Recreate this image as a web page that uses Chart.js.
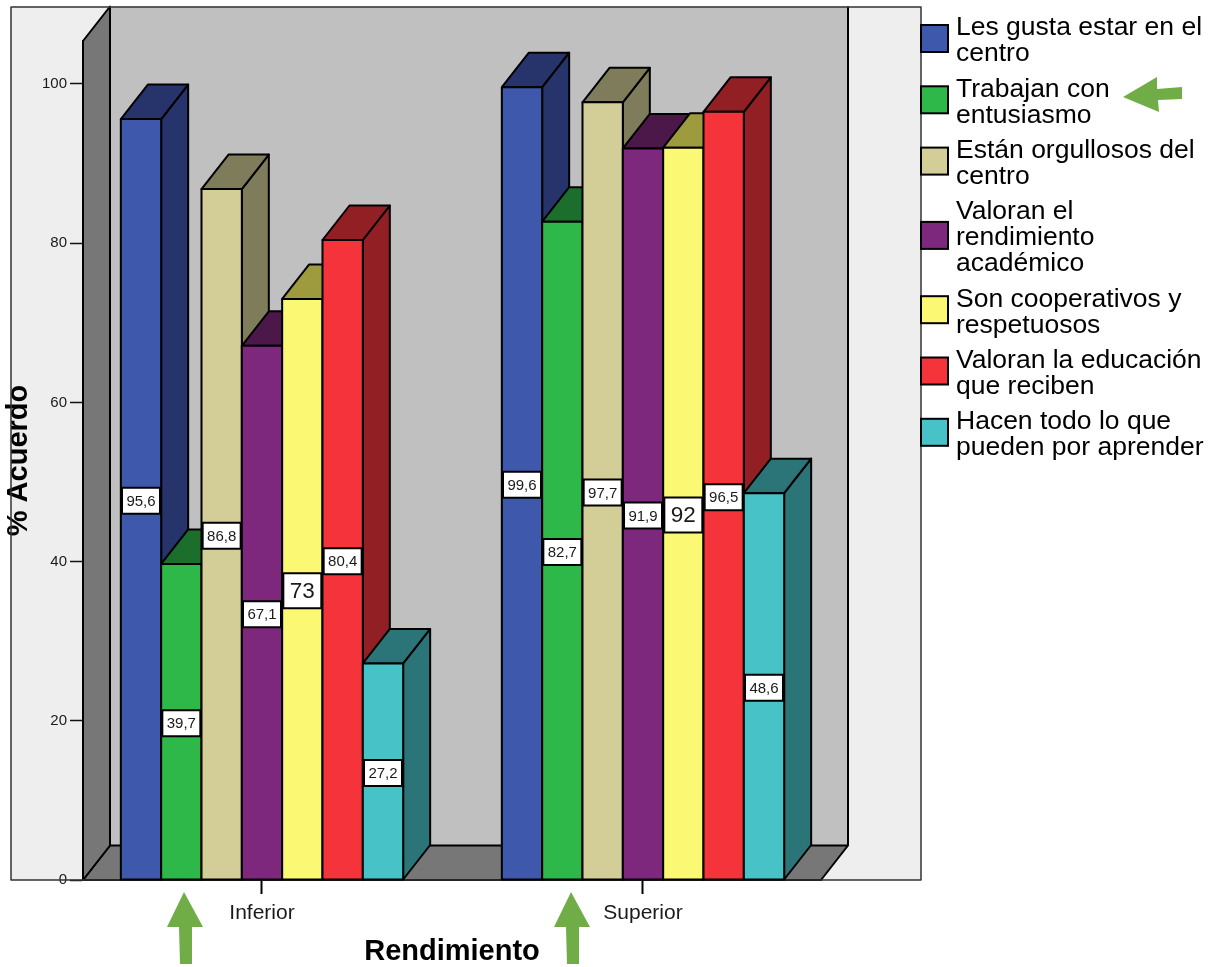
<!DOCTYPE html>
<html>
<head>
<meta charset="utf-8">
<style>html,body{margin:0;padding:0;background:#fff}canvas{display:block}</style>
<script src="https://cdn.jsdelivr.net/npm/chart.js@4"></script>
</head>
<body>
<canvas id="c" width="1209" height="967" style="width:1209px;height:967px"></canvas>
<script>
const categories = ['Inferior', 'Superior'];
const yTicks = [0, 20, 40, 60, 80, 100];
const seriesNames = [
  ['Les gusta estar en el', 'centro'],
  ['Trabajan con', 'entusiasmo'],
  ['Están orgullosos del', 'centro'],
  ['Valoran el', 'rendimiento', 'académico'],
  ['Son cooperativos y', 'respetuosos'],
  ['Valoran la educación', 'que reciben'],
  ['Hacen todo lo que', 'pueden por aprender']
];
const gustaCentro = [95.6, 99.6];
const entusiasmo = [39.7, 82.7];
const orgullosos = [86.8, 97.7];
const rendimientoAcademico = [67.1, 91.9];
const cooperativos = [73, 92];
const educacion = [80.4, 96.5];
const aprender = [27.2, 48.6];
const seriesValues = [gustaCentro, entusiasmo, orgullosos, rendimientoAcademico, cooperativos, educacion, aprender];
const frontColors = ['#3E58AC', '#2EB84A', '#D3CE97', '#7D287C', '#FBF873', '#F4333A', '#47C2C7'];
const shadeColors = ['#26346B', '#1B6E2C', '#7F7C5B', '#4B1849', '#9E9B3E', '#921F23', '#2B7578'];

const FONT = '"Liberation Sans", Arial, sans-serif';
const DX = 27, DY = 34.5;
const INK = '#000';

function poly(ctx, pts, fill, lw) {
  ctx.beginPath();
  pts.forEach((p, i) => i ? ctx.lineTo(p[0], p[1]) : ctx.moveTo(p[0], p[1]));
  ctx.closePath();
  if (fill) { ctx.fillStyle = fill; ctx.fill(); }
  if (lw) { ctx.lineWidth = lw; ctx.strokeStyle = INK; ctx.lineJoin = 'round'; ctx.stroke(); }
}
function barBox(el) {
  const p = el.getProps(['x', 'y', 'base', 'width'], true);
  return { l: p.x - p.width / 2, r: p.x + p.width / 2, t: p.y, b: p.base };
}
function panelBorder(ctx, a) {
  ctx.lineWidth = 1.5;
  ctx.strokeStyle = '#333';
  ctx.strokeRect(11, 7, 910, a.bottom - 7);
}

const scene = {
  id: 'scene',
  beforeDraw(chart) {
    const ctx = chart.ctx, a = chart.chartArea;
    ctx.save();
    ctx.fillStyle = '#EEEEEE';
    ctx.fillRect(11, 7, 910, a.bottom - 7);
    ctx.restore();
  },
  beforeDatasetsDraw(chart) {
    const ctx = chart.ctx, a = chart.chartArea;
    const L = a.left, R = a.right, T = a.top, B = a.bottom;
    ctx.save();
    // back wall, floor and left wall
    ctx.fillStyle = '#C0C0C0';
    ctx.fillRect(L + DX, T - DY, R - L, B - T);
    ctx.lineWidth = 2;
    ctx.strokeStyle = INK;
    ctx.beginPath();
    ctx.moveTo(R + DX, T - DY); ctx.lineTo(R + DX, B - DY);
    ctx.stroke();
    poly(ctx, [[L, B], [R, B], [R + DX, B - DY], [L + DX, B - DY]], '#777777', 2);
    poly(ctx, [[L, B], [L, T], [L + DX, T - DY], [L + DX, B - DY]], '#777777', 2);
    panelBorder(ctx, a);
    // bars left to right, so that each one hides the side face of the one before it
    seriesValues.forEach((vals, i) => {
      const meta = chart.getDatasetMeta(i);
      meta.data.forEach(el => {
        const q = barBox(el);
        poly(ctx, [[q.r, q.b], [q.r, q.t], [q.r + DX, q.t - DY], [q.r + DX, q.b - DY]], shadeColors[i], 2);
        poly(ctx, [[q.l, q.t], [q.r, q.t], [q.r + DX, q.t - DY], [q.l + DX, q.t - DY]], shadeColors[i], 2);
      });
      meta.controller.draw();
      ctx.lineWidth = 2;
      ctx.strokeStyle = INK;
      meta.data.forEach(el => {
        const q = barBox(el);
        ctx.strokeRect(q.l, q.t, q.r - q.l, q.b - q.t);
      });
    });
    // value labels
    ctx.textAlign = 'center';
    ctx.textBaseline = 'middle';
    seriesValues.forEach((vals, i) => {
      chart.getDatasetMeta(i).data.forEach((el, j) => {
        const q = barBox(el), v = vals[j], big = Number.isInteger(v);
        const cx = (q.l + q.r) / 2, cy = (q.t + q.b) / 2 + 1.5;
        const w = 38, h = big ? 35 : 26;
        ctx.fillStyle = '#fff';
        ctx.fillRect(cx - w / 2, cy - h / 2, w, h);
        ctx.lineWidth = 2;
        ctx.strokeStyle = INK;
        ctx.strokeRect(cx - w / 2, cy - h / 2, w, h);
        ctx.fillStyle = '#1a1a1a';
        ctx.font = (big ? 22.5 : 15) + 'px ' + FONT;
        ctx.fillText(String(v).replace('.', ','), cx, cy + 1);
      });
    });
    ctx.restore();
    return false;
  },
  afterDraw(chart) {
    const ctx = chart.ctx;
    ctx.save();
    // legend
    const lineH = 26, gap = 9.3;
    let y = 13;
    ctx.textBaseline = 'middle';
    ctx.textAlign = 'left';
    ctx.font = '26.5px ' + FONT;
    seriesNames.forEach((lines, i) => {
      const h = lines.length * lineH;
      const mid = y + h / 2;
      ctx.fillStyle = frontColors[i];
      ctx.fillRect(921, mid - 14, 27, 27);
      ctx.lineWidth = 2;
      ctx.strokeStyle = INK;
      ctx.strokeRect(921, mid - 14, 27, 27);
      ctx.fillStyle = '#000';
      lines.forEach((t, k) => ctx.fillText(t, 956, y + lineH * k + lineH / 2 + 2));
      y += h + gap;
    });
    // green annotation arrows
    const g = '#70AD47';
    [0, 387].forEach(o => poly(ctx, [[184 + o, 892], [203 + o, 927], [192 + o, 927], [192 + o, 964], [180 + o, 964], [179 + o, 927], [167 + o, 927]], g, 0));
    poly(ctx, [[1123, 97], [1157, 77], [1157, 89], [1182, 87], [1182, 99], [1158, 100], [1159, 112]], g, 0);
    ctx.restore();
  }
};

new Chart(document.getElementById('c'), {
  type: 'bar',
  data: {
    datasets: seriesValues.map((vals, i) => ({
      label: seriesNames[i].join(' '),
      data: vals.map((v, j) => ({ x: j, y: v })),
      backgroundColor: frontColors[i],
      borderColor: INK,
      borderWidth: 0,
      categoryPercentage: 0.741,
      barPercentage: 1
    }))
  },
  options: {
    responsive: false,
    animation: false,
    devicePixelRatio: 1,
    layout: { padding: { left: 0, right: 388, top: 41, bottom: 0 } },
    plugins: { legend: { display: false }, tooltip: { enabled: false } },
    scales: {
      x: {
        type: 'linear',
        z: 1,
        offset: false,
        min: -0.4698,
        max: 1.4672,
        afterFit(s) { s.height = 87; },
        grid: { offset: false, drawOnChartArea: false, drawTicks: true, tickLength: 14, tickWidth: 2, tickColor: INK },
        border: { display: true, color: INK, width: 2 },
        ticks: {
          stepSize: 1, includeBounds: false, autoSkip: false, maxRotation: 0, padding: 7,
          color: '#1a1a1a', font: { family: FONT, size: 21 },
          callback: v => categories[v] ?? ''
        },
        title: { display: true, text: 'Rendimiento', color: '#000', font: { family: FONT, size: 29, weight: 'bold' }, padding: { top: 0, bottom: -2 } }
      },
      y: {
        min: 0,
        max: 105.4,
        afterFit(s) { s.width = 83; },
        afterBuildTicks(s) { s.ticks = yTicks.map(v => ({ value: v })); },
        grid: { drawOnChartArea: false, drawTicks: true, tickLength: 13, tickWidth: 1.5, tickColor: '#111' },
        border: { display: true, color: INK, width: 2 },
        ticks: { padding: 3, autoSkip: false, color: '#1a1a1a', font: { family: FONT, size: 15 } },
        title: { display: true, text: '% Acuerdo', color: '#000', font: { family: FONT, size: 29, weight: 'bold' }, padding: { top: 2, bottom: 0 } }
      }
    }
  },
  plugins: [scene]
});
</script>
</body>
</html>
